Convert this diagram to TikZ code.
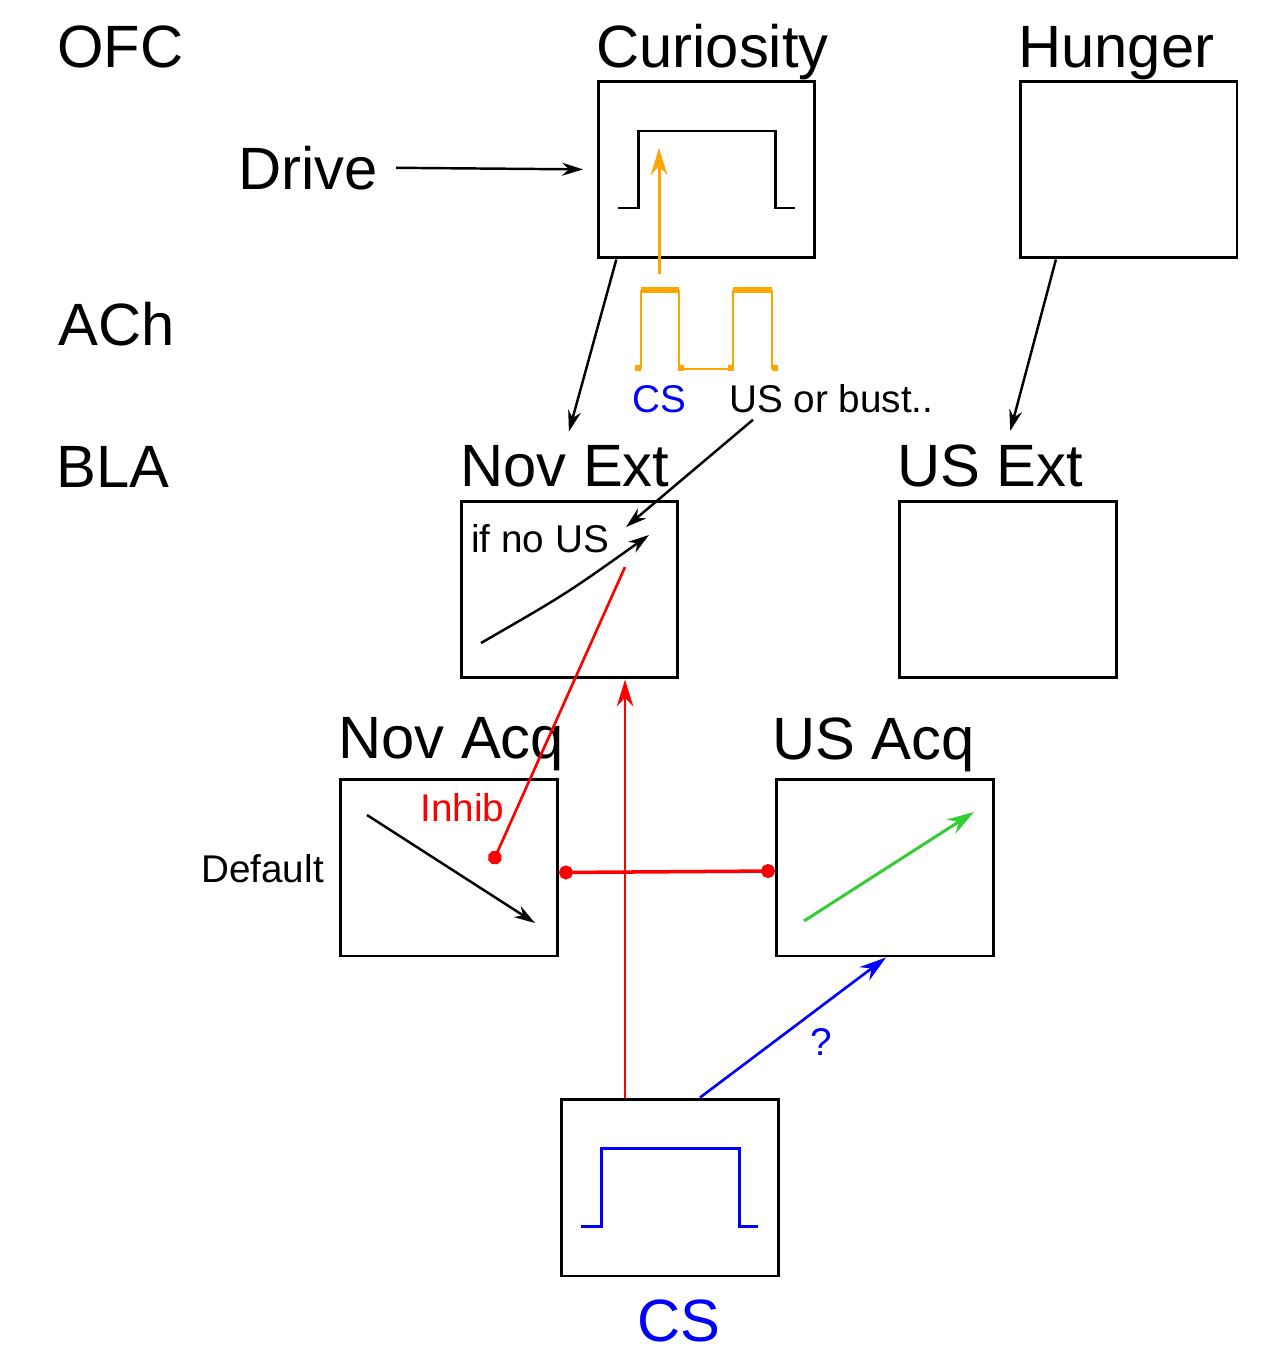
\documentclass[tikz,border=0pt]{standalone}
\usepackage{fontspec}
\setmainfont{Liberation Sans}
\usetikzlibrary{arrows.meta,calc}
\definecolor{achorange}{HTML}{FFA500}
\definecolor{csblue}{HTML}{0000FF}
\definecolor{inhred}{HTML}{FF0000}
\definecolor{usgreen}{HTML}{32CD32}
\tikzset{
  region/.style={draw=black,line width=1.7pt,minimum width=4.34cm,minimum height=3.54cm,inner sep=0pt},
  biglbl/.style={font=\fontsize{34}{40}\selectfont,anchor=base west,inner sep=0pt},
  smalllbl/.style={font=\fontsize{22}{26}\selectfont,anchor=base west,inner sep=0pt},
  carr/.style={-{Stealth[length=4.2mm,width=2.6mm]},line width=1.4pt},
  barr/.style={-{Stealth[length=5.4mm,width=3.3mm]},line width=1.5pt},
  trace/.style={line width=1.7pt},
  inhib/.style={line width=1.5pt,draw=inhred},
  inhdot/.tip={Circle[length=2.8mm,width=2.8mm]}
}
\begin{document}
\begin{tikzpicture}[x=0.02cm,y=-0.02cm]
  \useasboundingbox (0,0) rectangle (1280,1369);
  % row labels
  \node[biglbl] (ofc) at (57,67) {OFC};
  \node[biglbl] (ach) at (58,345) {ACh};
  \node[biglbl] (bla) at (56,487) {BLA};
  % OFC
  \node[region] (cur) at (706.5,169.5) {};
  \node[region] (hun) at (1128.5,169.5) {};
  \node[biglbl] (curl) at (596,67) {Curiosity};
  \node[biglbl] (hunl) at (1018,67) {Hunger};
  \node[biglbl] (drive) at (238,189) {Drive};
  \draw[carr,shorten <=0.36cm,shorten >=0.27cm] (drive.east) -- (cur.west);
  \draw[trace] (618,208) -| (638,131) -| (775,208) -- (795,208);
  % ACh
  \draw[achorange,line width=0.9pt] (641,369) -- (641,290) (679,290) -- (679,369) (733,369) -- (733,290) (772,290) -- (772,369);
  \draw[achorange,line width=3.2pt] (641,290) -- (679,290) (733,290) -- (772,290);
  \draw[achorange,line width=1.6pt] (679,369) -- (733,369);
  \foreach \x in {638,681,731,775}
    \fill[achorange] (\x-3,365) rectangle (\x+3,371);
  \coordinate (achtap) at (659,274);
  \coordinate (curin) at (659,148);
  \draw[barr,draw=achorange,fill=achorange,line width=1.7pt] (achtap) -- (curin);
  \node[smalllbl,text=csblue] (csl) at (632,412) {CS};
  \node[smalllbl] (bust) at (729,412) {US or bust..};
  % BLA
  \node[region] (novext) at (569.5,589.5) {};
  \node[region] (usext) at (1008,589.5) {};
  \node[biglbl] (novextl) at (460,486) {Nov Ext};
  \node[biglbl] (usextl) at (897,486) {US Ext};
  \draw[carr] ($(cur.south west)!0.09!(cur.south east)$) -- ($(novextl.north)+(4,-13)$);
  \draw[carr] ($(hun.south west)!0.17!(hun.south east)$) -- ($(usextl.north)+(20,-13)$);
  \node[smalllbl] (nous) at (471,552) {if no US};
  \coordinate (bustin) at (626,527);
  \draw[carr] ($(bust.south west)+(24,7)$) -- (bustin);
  \draw[carr] (481,643) .. controls (566,594) .. (649,535);
  \node[region] (novacq) at (449,867.5) {};
  \node[region] (usacq) at (885,867.5) {};
  \node[biglbl] (novacql) at (338,758) {Nov Acq};
  \node[biglbl] (usacql) at (772,759) {US Acq};
  \node[smalllbl] (dflt) at (201,882) {Default};
  \draw[carr] (367,815) -- (535,923);
  \draw[barr,draw=usgreen,fill=usgreen,line width=1.7pt] (804,921) -- (974,812);
  % inhibition
  \node[smalllbl,text=inhred] (inh) at (420,821) {Inhib};
  \coordinate (inhtop) at (625,567);
  \coordinate (inhend) at (492,864);
  \draw[inhib,-{inhdot}] (inhtop) -- (inhend);
  \draw[inhib,line width=2pt,{inhdot}-{inhdot}] ($(novacq.east)+(0,5)$) -- ($(usacq.west)+(0,3.5)$);
  % CS
  \node[region] (cs) at (670,1187.5) {};
  \node[biglbl,text=csblue] (csbl) at (637,1341) {CS};
  \draw[trace,draw=csblue] (581,1226) -| (601,1148) -| (739,1226) -- (758,1226);
  \coordinate (csup) at ($(cs.north west)+(65,0)$);
  \draw[inhib,barr,fill=inhred] (csup) -- (csup |- novext.south);
  \draw[barr,draw=csblue,fill=csblue] ($(cs.north west)+(140,0)$) -- ($(usacq.south west)+(111,0)$);
  \node[smalllbl,text=csblue] (q) at (810,1055) {?};
\end{tikzpicture}
\end{document}
